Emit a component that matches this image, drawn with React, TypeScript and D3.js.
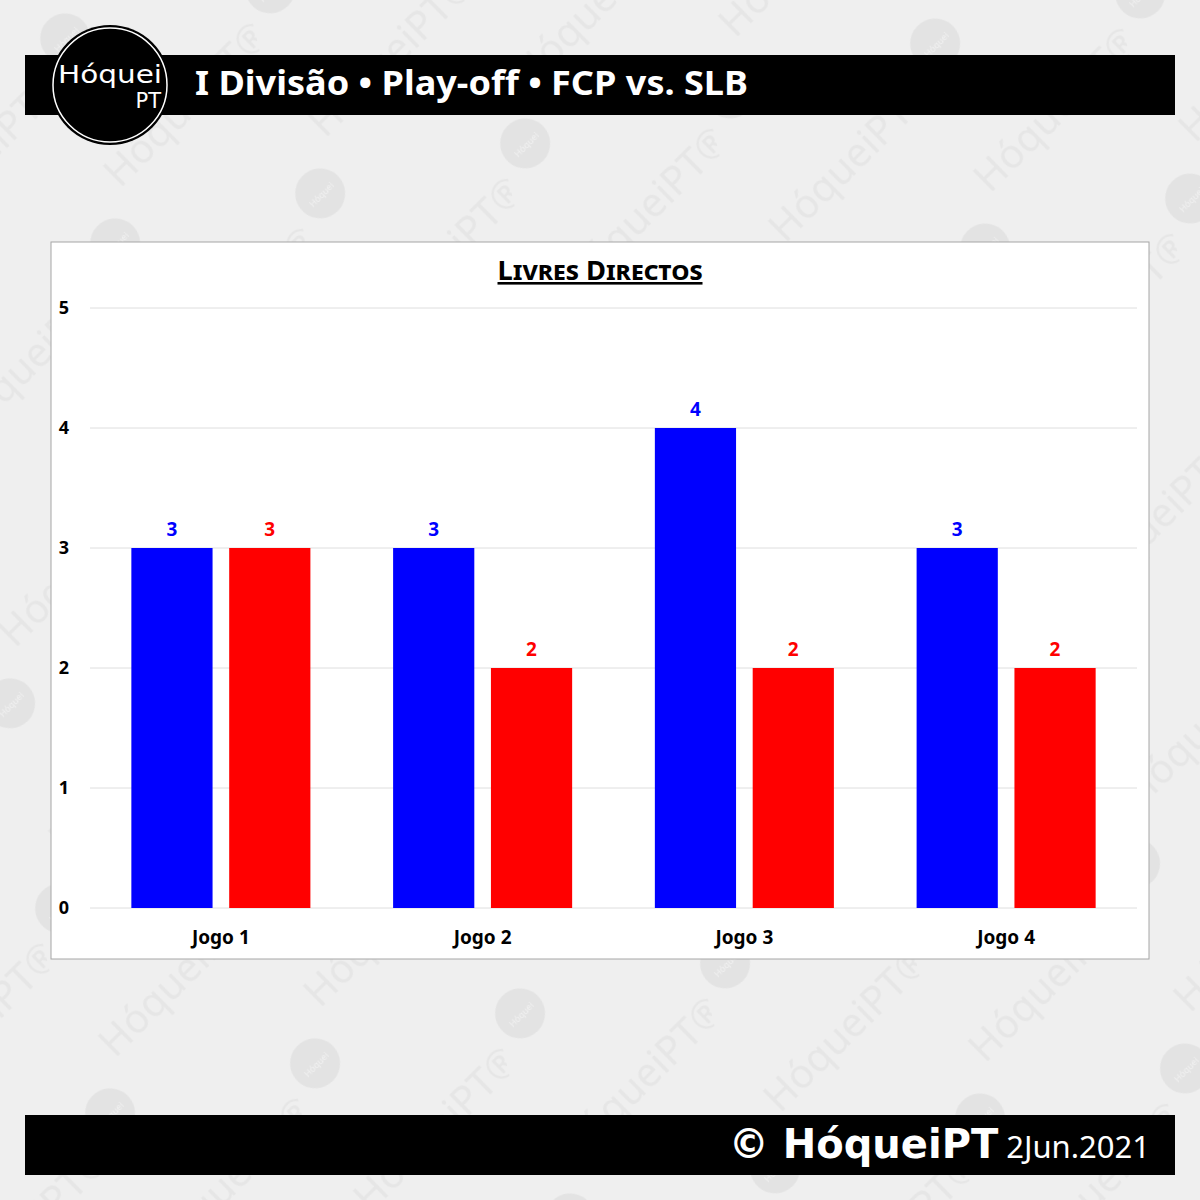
import * as d3 from 'd3';

// Data
const GAMES = ['Jogo 1', 'Jogo 2', 'Jogo 3', 'Jogo 4'];
const TEAMS = ['FCP', 'SLB'];
const FCP_VALUES = [3, 3, 4, 3];
const SLB_VALUES = [3, 2, 2, 2];
const Y_TICKS = [0, 1, 2, 3, 4, 5];
const TEAM_COLORS = ['#0000ff', '#ff0000'];

const TITLE = 'I Divisão • Play-off • FCP vs. SLB';
const CHART_TITLE = 'Livres Directos';
const DATE = '2Jun.2021';

const W = 1200;
const H = 1200;
const PANEL = { x: 51, y: 242, w: 1098, h: 717 };
const PLOT = { left: 90, right: 1137, top: 308, bottom: 908 };
const FONT = "'Noto Sans', 'Open Sans', sans-serif";

const Watermark = () => (
  <defs>
    <pattern
      id="wm"
      width={211}
      height={211}
      patternUnits="userSpaceOnUse"
      patternTransform="translate(35,20) rotate(-13.7)"
    >
      <circle cx={25} cy={25} r={25} fill="#e3e3e3" />
      <text
        x={25}
        y={30}
        fontSize={9}
        fill="#f2f2f2"
        textAnchor="middle"
        fontFamily={FONT}
        transform="rotate(-32 25 25)"
      >
        Hóquei
      </text>
      <text
        x={130}
        y={130}
        fontSize={40}
        fill="#e6e6e6"
        textAnchor="middle"
        fontFamily={FONT}
        transform="rotate(-31 130 120)"
      >
        HóqueiPT®
      </text>
    </pattern>
  </defs>
);

export default function App() {
  const x = d3
    .scaleBand<string>()
    .domain(GAMES)
    .range([PLOT.left, PLOT.right])
    .paddingInner(0.316)
    .paddingOuter(0.158);

  const xTeam = d3
    .scaleBand<string>()
    .domain(TEAMS)
    .range([0, x.bandwidth()])
    .paddingInner(0.17);

  const y = d3.scaleLinear().domain([0, 5]).range([PLOT.bottom, PLOT.top]);

  const series = [FCP_VALUES, SLB_VALUES];

  return (
    <svg
      width={W}
      height={H}
      style={{ position: 'absolute', left: 0, top: 0 }}
      fontFamily={FONT}
    >
      <Watermark />
      <rect width={W} height={H} fill="#efefef" />
      <rect width={W} height={H} fill="url(#wm)" />

      {/* header */}
      <rect x={25} y={55} width={1150} height={60} fill="#000" />
      <circle cx={110} cy={85} r={60} fill="#000" />
      <circle cx={110} cy={85} r={57} fill="none" stroke="#fff" strokeWidth={1.5} />
      <text
        x={58}
        y={83}
        fill="#fff"
        fontSize={24}
        textLength={104}
        lengthAdjust="spacingAndGlyphs"
        fontFamily="'DejaVu Sans', sans-serif"
      >
        Hóquei
      </text>
      <text x={161} y={108} fill="#fff" fontSize={21} textAnchor="end" fontFamily="'DejaVu Sans', sans-serif">
        PT
      </text>
      <text x={195} y={95} fill="#fff" fontSize={34} fontWeight="bold" textLength={553} lengthAdjust="spacingAndGlyphs">
        {TITLE}
      </text>

      {/* chart panel */}
      <rect
        x={PANEL.x}
        y={PANEL.y}
        width={PANEL.w}
        height={PANEL.h}
        fill="#fff"
        stroke="#a6a6a6"
        strokeWidth={1}
      />
      <text
        x={600}
        y={280}
        textAnchor="middle"
        fontSize={26}
        fontWeight="bold"
        fill="#000"
        textLength={205}
        lengthAdjust="spacingAndGlyphs"
        style={{ fontVariant: 'small-caps', textDecoration: 'underline' }}
      >
        {CHART_TITLE}
      </text>

      {/* grid + y labels */}
      {Y_TICKS.map((t) => (
        <g key={t}>
          <line x1={PLOT.left} x2={PLOT.right} y1={y(t)} y2={y(t)} stroke="#dedede" strokeWidth={1} />
          <text x={64} y={y(t) + 6} textAnchor="middle" fontSize={18} fontWeight="bold" fill="#000">
            {t}
          </text>
        </g>
      ))}

      {/* bars */}
      {GAMES.map((g, gi) => (
        <g key={g} transform={`translate(${x(g)},0)`}>
          {TEAMS.map((team, ti) => {
            const v = series[ti][gi];
            const bx = xTeam(team) as number;
            return (
              <g key={team}>
                <rect
                  x={bx}
                  y={y(v)}
                  width={xTeam.bandwidth()}
                  height={y(0) - y(v)}
                  fill={TEAM_COLORS[ti]}
                />
                <text
                  x={bx + xTeam.bandwidth() / 2}
                  y={y(v) - 12}
                  textAnchor="middle"
                  fontSize={19}
                  fontWeight="bold"
                  fill={TEAM_COLORS[ti]}
                >
                  {v}
                </text>
              </g>
            );
          })}
          <text
            x={x.bandwidth() / 2}
            y={944}
            textAnchor="middle"
            fontSize={19}
            fontWeight="bold"
            fill="#000"
          >
            {g}
          </text>
        </g>
      ))}

      {/* footer */}
      <rect x={25} y={1115} width={1150} height={60} fill="#000" />
      <text x={1150} y={1158} textAnchor="end" fill="#fff">
        <tspan fontSize={40} fontFamily="'DejaVu Sans', sans-serif" fontWeight="bold">
          © HóqueiPT
        </tspan>
        <tspan fontSize={31} dx={8}>
          {DATE}
        </tspan>
      </text>
    </svg>
  );
}
